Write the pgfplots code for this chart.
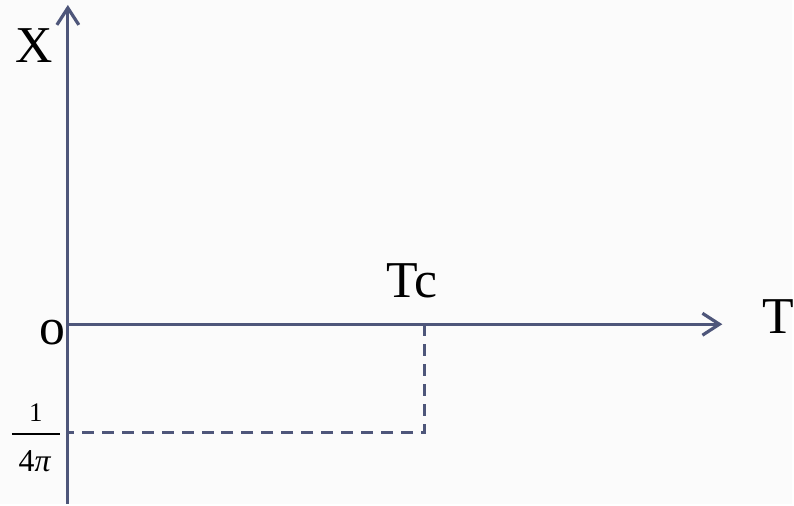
\documentclass[border=0pt]{standalone}
\usepackage{fontspec}
\setmainfont{Liberation Serif}
\usepackage{pgfplots}
\pgfplotsset{compat=1.18}
\usetikzlibrary{arrows.meta}
\definecolor{axiscol}{RGB}{78,86,122}
\definecolor{bgcol}{RGB}{251,251,251}

\begin{document}
\begin{tikzpicture}
\begin{axis}[
  scale only axis, width=794bp, height=505bp,
  xmin=0, xmax=794, ymin=0, ymax=505,
  axis lines=none, ticks=none, clip=false,
]
% background
\fill[bgcol] (axis cs:0,0) rectangle (axis cs:794,505);

% axes with open arrow heads
\addplot[axiscol, line width=3.2bp, -{Straight Barb[length=17bp,width=22bp]}]
  coordinates {(68,0) (68,500)};
\addplot[axiscol, line width=3.2bp, -{Straight Barb[length=17bp,width=22bp]}]
  coordinates {(68,180) (724,180)};

% guide from Tc down to the level 1/(4 pi)
\addplot[axiscol, line width=3bp, dash pattern=on 12bp off 8bp, line join=miter]
  coordinates {(425,180) (425,71) (68,71)};

% labels
\node[anchor=base west, inner sep=0pt, font=\fontsize{52}{60}\selectfont]
  at (axis cs:15,442) {X};
\node[anchor=base west, inner sep=0pt, font=\fontsize{52}{60}\selectfont]
  at (axis cs:764,171) {T};
\node[anchor=base west, inner sep=0pt, font=\fontsize{52}{60}\selectfont]
  at (axis cs:39,160) {o};
\node[anchor=base west, inner sep=0pt, font=\fontsize{52}{60}\selectfont]
  at (axis cs:387,207) {Tc};

% fraction 1/(4 pi)
\node[anchor=base, inner sep=0pt, font=\fontsize{27}{30}\selectfont]
  at (axis cs:36,83) {1};
\draw[black, line width=2bp] (axis cs:12,70) -- (axis cs:60,70);
\node[anchor=base, inner sep=0pt, font=\fontsize{32}{36}\selectfont]
  at (axis cs:35,32) {4\textit{π}};
\end{axis}
\end{tikzpicture}
\end{document}
